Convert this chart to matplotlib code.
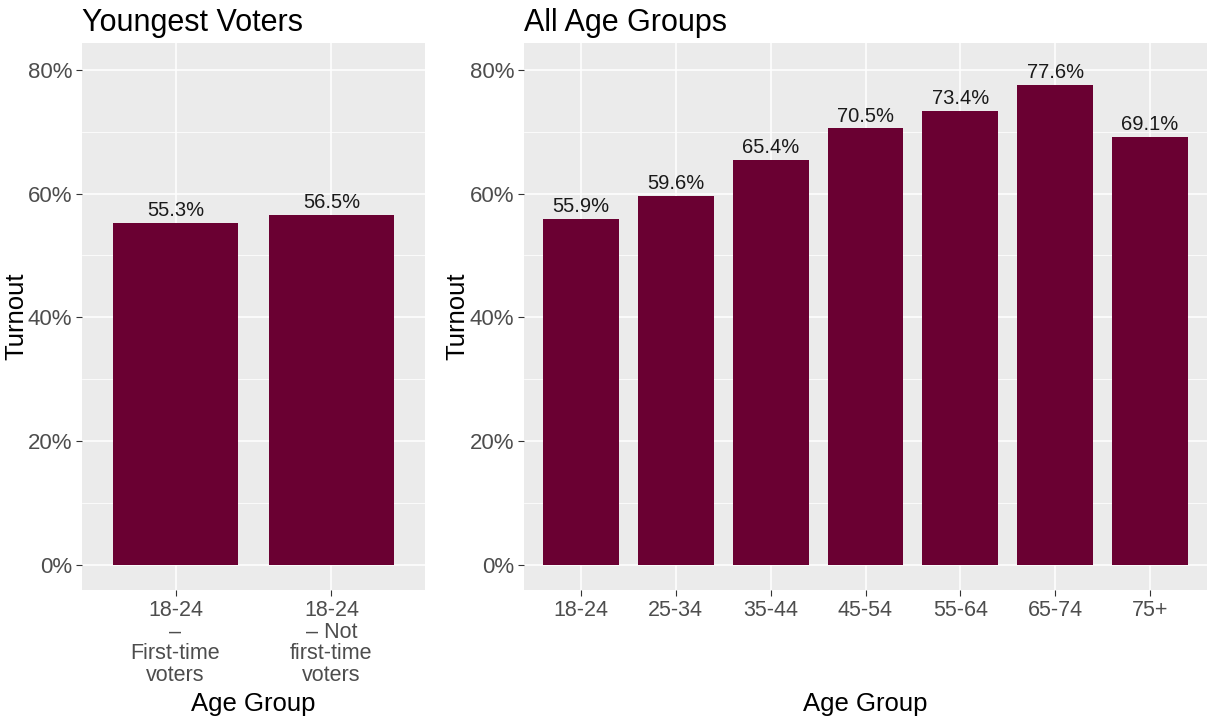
import matplotlib.pyplot as plt
from matplotlib.ticker import FixedLocator, PercentFormatter

# turnout by age group (percent)
young_groups = ["18-24\n\u2013\nFirst-time\nvoters", "18-24\n\u2013 Not\nfirst-time\nvoters"]
young_turnout = [55.3, 56.5]

age_groups = ["18-24", "25-34", "35-44", "45-54", "55-64", "65-74", "75+"]
age_turnout = [55.9, 59.6, 65.4, 70.5, 73.4, 77.6, 69.1]

bar_color = "#6A0032"
panel_bg = "#EBEBEB"

plt.rcParams["font.family"] = ["Liberation Sans", "DejaVu Sans"]

fig = plt.figure(figsize=(12.11, 7.17), dpi=100)
W, H = 1211, 717


def box(x0, y0, x1, y1):
    return [x0 / W, 1 - y1 / H, (x1 - x0) / W, (y1 - y0) / H]


def draw_panel(ax, cats, vals, title, ylab_x, xlab_y):
    xs = list(range(len(cats)))
    ax.set_facecolor(panel_bg)
    ax.bar(xs, vals, width=0.8, color=bar_color, zorder=2)
    for x, v in zip(xs, vals):
        ax.annotate(f"{v:.1f}%", (x, v), xytext=(0, 2), textcoords="offset points",
                    ha="center", va="bottom", fontsize=14.5, color="#1A1A1A", zorder=3)
    ax.set_xlim(-0.6, len(cats) - 0.4)
    ax.set_ylim(-4, 84.3)
    ax.yaxis.set_major_locator(FixedLocator([0, 20, 40, 60, 80]))
    ax.yaxis.set_minor_locator(FixedLocator([10, 30, 50, 70]))
    ax.yaxis.set_major_formatter(PercentFormatter(decimals=0))
    ax.set_xticks(xs)
    ax.set_xticklabels(cats, linespacing=1.05)
    ax.grid(which="major", color="white", linewidth=1.1, zorder=0)
    ax.grid(which="minor", axis="y", color="white", linewidth=0.55, zorder=0)
    ax.set_axisbelow(True)
    for s in ax.spines.values():
        s.set_visible(False)
    ax.tick_params(which="major", length=4, width=0.8, color="#333333",
                   labelsize=15.5, labelcolor="#4D4D4D", pad=3)
    ax.tick_params(axis="y", labelsize=16)
    ax.tick_params(which="minor", length=0)
    ax.set_ylabel("Turnout", fontsize=18.5, va="center")
    ax.yaxis.set_label_coords(ylab_x, 0.5)
    ax.set_xlabel("Age Group", fontsize=18.5, va="center")
    ax.xaxis.set_label_coords(0.5, xlab_y)
    ax.set_title(title, loc="left", fontsize=22, pad=9)


ax1 = fig.add_axes(box(82, 43, 425, 590))
draw_panel(ax1, young_groups, young_turnout, "Youngest Voters",
           (16 - 82) / 343, -(704 - 590) / 547)

ax2 = fig.add_axes(box(524, 43, 1207, 590))
draw_panel(ax2, age_groups, age_turnout, "All Age Groups",
           (457 - 524) / 683, -(704 - 590) / 547)

fig.savefig("out.png", dpi=100)
